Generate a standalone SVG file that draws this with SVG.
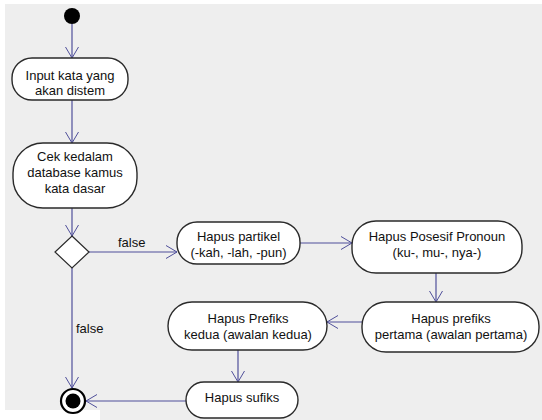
<svg xmlns="http://www.w3.org/2000/svg" width="542" height="420" viewBox="0 0 542 420">
<defs>
<marker id="arr" markerUnits="userSpaceOnUse" markerWidth="14" markerHeight="14" viewBox="0 0 12 14" refX="11" refY="7" orient="auto">
<path d="M0,0.5 L11,7 L0,13.5" fill="none" stroke="#4f4f9a" stroke-width="1"/>
</marker>
</defs>
<style>
.node rect{fill:#fff;stroke:#2a2a2a;stroke-width:1.4}
.node text, .lbl{font-family:"Liberation Sans",Arial,sans-serif;font-size:13px;fill:#111;text-anchor:middle}
.lbl{text-anchor:start}
.c{fill:none;stroke:#4f4f9a;stroke-width:1.2;marker-end:url(#arr)}
</style>
<rect x="0" y="0" width="542" height="420" fill="#fff"/>
<rect x="5" y="4" width="537" height="416" fill="#eeeeee"/>
<rect x="0" y="410" width="100" height="10" fill="#fff"/>

<g id="connectors">
<path class="c" d="M72,24 L72,58"/>
<path class="c" d="M72,100 L72,143"/>
<path class="c" d="M72,208 L72,236"/>
<path class="c" d="M89,252 L177,252"/>
<path class="c" d="M72,268 L72,388"/>
<path class="c" d="M300,243 L352,243"/>
<path class="c" d="M436,273 L436,302"/>
<path class="c" d="M362,322 L327,322"/>
<path class="c" d="M238,350 L238,382"/>
<path class="c" d="M186,401 L86,401"/>
<text class="lbl" x="118" y="247">false</text>
<text class="lbl" x="76" y="333">false</text>
</g>

<g id="start"><circle cx="72" cy="16" r="8" fill="#000"/></g>

<g id="n1" class="node">
<rect x="12" y="58" width="116" height="42" rx="20" ry="20"/>
<text x="70" y="80">Input kata yang</text>
<text x="70" y="95">akan distem</text>
</g>

<g id="n2" class="node">
<rect x="13" y="143" width="124" height="65" rx="30" ry="30"/>
<text x="75" y="161">Cek kedalam</text>
<text x="75" y="177">database kamus</text>
<text x="75" y="193">kata dasar</text>
</g>

<g id="decision"><path d="M72,236 L89,252 L72,268 L55,252 Z" fill="#fff" stroke="#2a2a2a" stroke-width="1.2"/></g>

<g id="n3" class="node">
<rect x="177" y="222" width="123" height="42" rx="20" ry="20"/>
<text x="238.5" y="241">Hapus partikel</text>
<text x="238.5" y="257">(-kah, -lah, -pun)</text>
</g>

<g id="n4" class="node">
<rect x="352" y="221" width="170" height="52" rx="24" ry="24"/>
<text x="437" y="241">Hapus Posesif Pronoun</text>
<text x="437" y="257">(ku-, mu-, nya-)</text>
</g>

<g id="n5" class="node">
<rect x="362" y="302" width="177" height="50" rx="24" ry="24"/>
<text x="451" y="323">Hapus prefiks</text>
<text x="451" y="339">pertama (awalan pertama)</text>
</g>

<g id="n6" class="node">
<rect x="168" y="302" width="159" height="48" rx="24" ry="24"/>
<text x="248" y="323">Hapus Prefiks</text>
<text x="248" y="339">kedua (awalan kedua)</text>
</g>

<g id="n7" class="node">
<rect x="186" y="382" width="112" height="36" rx="18" ry="18"/>
<text x="242" y="402">Hapus sufiks</text>
</g>

<g id="end">
<circle cx="73" cy="401" r="12" fill="#fff" stroke="#000" stroke-width="2.2"/>
<circle cx="73" cy="401" r="7.5" fill="#000"/>
</g>
</svg>
